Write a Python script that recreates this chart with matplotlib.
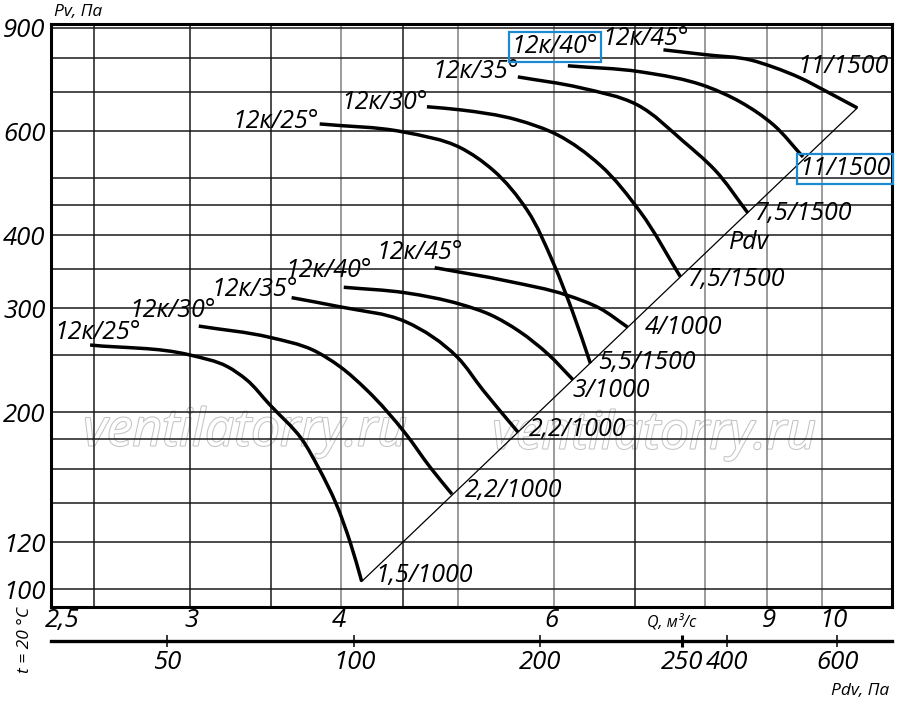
import numpy as np
import matplotlib
matplotlib.use("Agg")
import matplotlib.pyplot as plt
import matplotlib.patheffects as pe
from matplotlib.path import Path
from matplotlib.patches import PathPatch
from matplotlib.ticker import NullLocator

plt.rcParams['font.family'] = ['Open Sans', 'DejaVu Sans']
plt.rcParams['font.style'] = 'italic'

# --- lower family (1000 rpm motors) ---
q_25a = [2.48, 3.00, 3.22, 3.34, 3.49, 3.71, 3.83, 3.96, 4.07, 4.16]
p_25a = [260, 250, 239, 227, 206, 180, 161, 140, 120, 103]
q_30a = [3.05, 3.49, 3.79, 3.99, 4.20, 4.52, 4.74, 4.94]
p_30a = [280, 268, 255, 239, 218, 184, 161, 145]
q_35a = [3.64, 3.99, 4.52, 4.99, 5.24, 5.60]
p_35a = [313, 302, 285, 248, 218, 185]
q_40a = [4.02, 4.52, 5.02, 5.31, 5.62, 5.93, 6.22]
p_40a = [326, 319, 305, 293, 274, 251, 227]
q_45a = [4.78, 5.49, 6.15, 6.55, 6.90]
p_45a = [352, 334, 316, 300, 279]

# --- upper family (1500 rpm motors) ---
q_25b = [3.84, 4.50, 5.02, 5.34, 5.70, 5.99, 6.22, 6.43]
p_25b = [618, 599, 563, 516, 441, 359, 295, 242]
q_30b = [4.71, 5.02, 5.59, 6.04, 6.55, 7.07, 7.63]
p_30b = [661, 653, 628, 592, 526, 438, 340]
q_35b = [5.60, 6.31, 7.03, 7.67, 8.15, 8.68]
p_35b = [743, 712, 666, 578, 516, 436]
q_40b = [6.16, 7.07, 8.03, 8.55, 9.11, 9.64]
p_40b = [776, 758, 715, 674, 616, 543]
q_45b = [7.39, 8.03, 8.72, 9.11, 9.59, 10.09, 10.69]
p_45b = [826, 810, 794, 772, 740, 701, 658]

blade_labels = ['12к/25°', '12к/30°', '12к/35°', '12к/40°', '12к/45°']
motor_lo = ['1,5/1000', '2,2/1000', '2,2/1000', '3/1000', '4/1000']
motor_hi = ['5,5/1500', '7,5/1500', '7,5/1500', '11/1500', '11/1500']

# dynamic pressure line
q_pdv = [4.16, 10.69]
p_pdv = [103, 658]

grid_q = [2.5, 3, 3.5, 4, 4.5, 5, 6, 7, 8, 9, 10]
grid_p = [100, 120, 140, 160, 180, 200, 250, 300, 350, 400, 450, 500, 600, 700, 800, 900]
y_ticks = [100, 120, 200, 300, 400, 600, 900]
q_labels = ['2,5', '3', '4', '6', '9', '10']
pdv_labels = ['50', '100', '200', '250', '400', '600']

# layout: where the labels sit along Q
q_label_at = [2.35, 3.01, 3.985, 5.97, 9.04, 10.21]
pdv_tick_at = [2.87, 4.10, 5.84, 7.66, 8.34, 10.29]

curves_lo = [(q_25a, p_25a), (q_30a, p_30a), (q_35a, p_35a), (q_40a, p_40a), (q_45a, p_45a)]
curves_hi = [(q_25b, p_25b), (q_30b, p_30b), (q_35b, p_35b), (q_40b, p_40b), (q_45b, p_45b)]

# label offsets in pixels (start label, end label)
off_start_lo = [(7, 13), (-26, 16), (-37, 8), (-15, 17), (-15, 15)]
off_start_hi = [(-44, 2), (-42, 4), (-42, 5), (-13, 19), (-18, 11)]
off_end_lo = [(62, 6), (62, 4), (60, 2), (38, -11), (56, 0)]
off_end_hi = [(56, 1), (56, -3), (56, 0), (42, -12), (-14, 41)]
boxed_hi = [False, False, False, True, False]

XLIM = (2.302, 11.42)
YLIM = (93.2, 914)
AX_RECT = [51 / 900, 98 / 705, 841 / 900, 583 / 705]

# pixels per decade, so the smoothing works in an even (screen-like) space
SX = 841 / np.log10(XLIM[1] / XLIM[0])
SY = 583 / np.log10(YLIM[1] / YLIM[0])


def smooth_path(q, p):
    # chord-length hermite curve through the read points, as bezier segments
    pts = np.column_stack([np.log10(q) * SX, np.log10(p) * SY])
    n = len(pts)
    d = np.linalg.norm(np.diff(pts, axis=0), axis=1)
    tang = np.zeros_like(pts)
    tang[0] = (pts[1] - pts[0]) / d[0]
    tang[-1] = (pts[-1] - pts[-2]) / d[-1]
    for i in range(1, n - 1):
        u0 = (pts[i] - pts[i - 1]) / d[i - 1]
        u1 = (pts[i + 1] - pts[i]) / d[i]
        t = (d[i] * u0 + d[i - 1] * u1) / (d[i - 1] + d[i])
        tang[i] = t / np.linalg.norm(t)
    verts = [pts[0]]
    codes = [Path.MOVETO]
    for i in range(n - 1):
        verts += [pts[i] + tang[i] * d[i] / 3, pts[i + 1] - tang[i + 1] * d[i] / 3, pts[i + 1]]
        codes += [Path.CURVE4] * 3
    v = np.array(verts)
    return Path(np.column_stack([10 ** (v[:, 0] / SX), 10 ** (v[:, 1] / SY)]), codes)


fig = plt.figure(figsize=(9, 7.05), dpi=100)
ax = fig.add_axes(AX_RECT)
ax.set_xscale('log')
ax.set_yscale('log')
ax.set_xlim(*XLIM)
ax.set_ylim(*YLIM)

gray_q = [4, 5, 6, 8, 9, 10]
for q in grid_q:
    ax.axvline(q, color='#808080' if q in gray_q else '#1a1a1a', lw=1.1, zorder=1)
for p in grid_p:
    ax.axhline(p, color='#1a1a1a', lw=1.1, zorder=1)

# watermark, under the grid
for wx, wy in [(245, 432), (654, 435)]:
    ax.text(wx / 900, 1 - wy / 705, 'ventilatorry.ru', fontsize=37, ha='center', va='center',
            color='white', zorder=0.5, transform=fig.transFigure,
            path_effects=[pe.withStroke(linewidth=1.5, foreground='#c4c4c4')])

blue = '#1b8ad3'
fs = 18

for (q, p), lab, o1, o2, mot in zip(curves_lo, blade_labels, off_start_lo, off_end_lo, motor_lo):
    ax.add_patch(PathPatch(smooth_path(q, p), fill=False, ec='black', lw=2.5, zorder=3))
    ax.annotate(lab, (q[0], p[0]), xytext=o1, textcoords='offset pixels',
                ha='center', va='center', fontsize=fs, zorder=4)
    ax.annotate(mot, (q[-1], p[-1]), xytext=o2, textcoords='offset pixels',
                ha='center', va='center', fontsize=fs, zorder=4)

for (q, p), lab, o1, o2, mot, bx in zip(curves_hi, blade_labels, off_start_hi, off_end_hi,
                                        motor_hi, boxed_hi):
    ax.add_patch(PathPatch(smooth_path(q, p), fill=False, ec='black', lw=2.5, zorder=3))
    box = dict(boxstyle='square,pad=0.1', fc='none', ec=blue, lw=1.6) if bx else None
    ax.annotate(lab, (q[0], p[0]), xytext=o1, textcoords='offset pixels',
                ha='center', va='center', fontsize=fs, bbox=box, zorder=4)
    ax.annotate(mot, (q[-1], p[-1]), xytext=o2, textcoords='offset pixels',
                ha='center', va='center', fontsize=fs, bbox=box, zorder=4)

ax.plot(q_pdv, p_pdv, color='black', lw=0.9, zorder=2)
ax.text(8.70, 388, 'Pdv', fontsize=fs, ha='center', va='center', zorder=4)

for s in ax.spines.values():
    s.set_linewidth(2.2)

ax.set_yticks(y_ticks, labels=[str(v) for v in y_ticks], fontsize=18.5)
ax.set_xticks(q_label_at, labels=q_labels, fontsize=18.5)
ax.xaxis.set_minor_locator(NullLocator())
ax.yaxis.set_minor_locator(NullLocator())
ax.tick_params(axis='both', length=0)
ax.tick_params(axis='y', pad=4)
ax.tick_params(axis='x', pad=1)

sec = ax.secondary_xaxis(-0.0583)
sec.set_xticks(pdv_tick_at, labels=pdv_labels, fontsize=18.5)
sec.xaxis.set_minor_locator(NullLocator())
sec.spines['bottom'].set_linewidth(2.4)
sec.tick_params(direction='inout', length=9, width=1.1, pad=2)
sec.xaxis.get_major_ticks()[3].tick1line.set_markeredgewidth(2.2)

fig.text(78 / 900, 1 - 12 / 705, 'Pv, Па', fontsize=12.5, ha='center', va='center')
fig.text(860 / 900, 1 - 691 / 705, 'Pdv, Па', fontsize=12.5, ha='center', va='center')
fig.text(672 / 900, 1 - 622 / 705, 'Q, м³/с', fontsize=11.5, ha='center', va='center')
fig.text(25 / 900, 1 - 640 / 705, 't = 20 °C', fontsize=12.5, ha='center', va='center', rotation=90)

fig.savefig('out.png', dpi=100)
